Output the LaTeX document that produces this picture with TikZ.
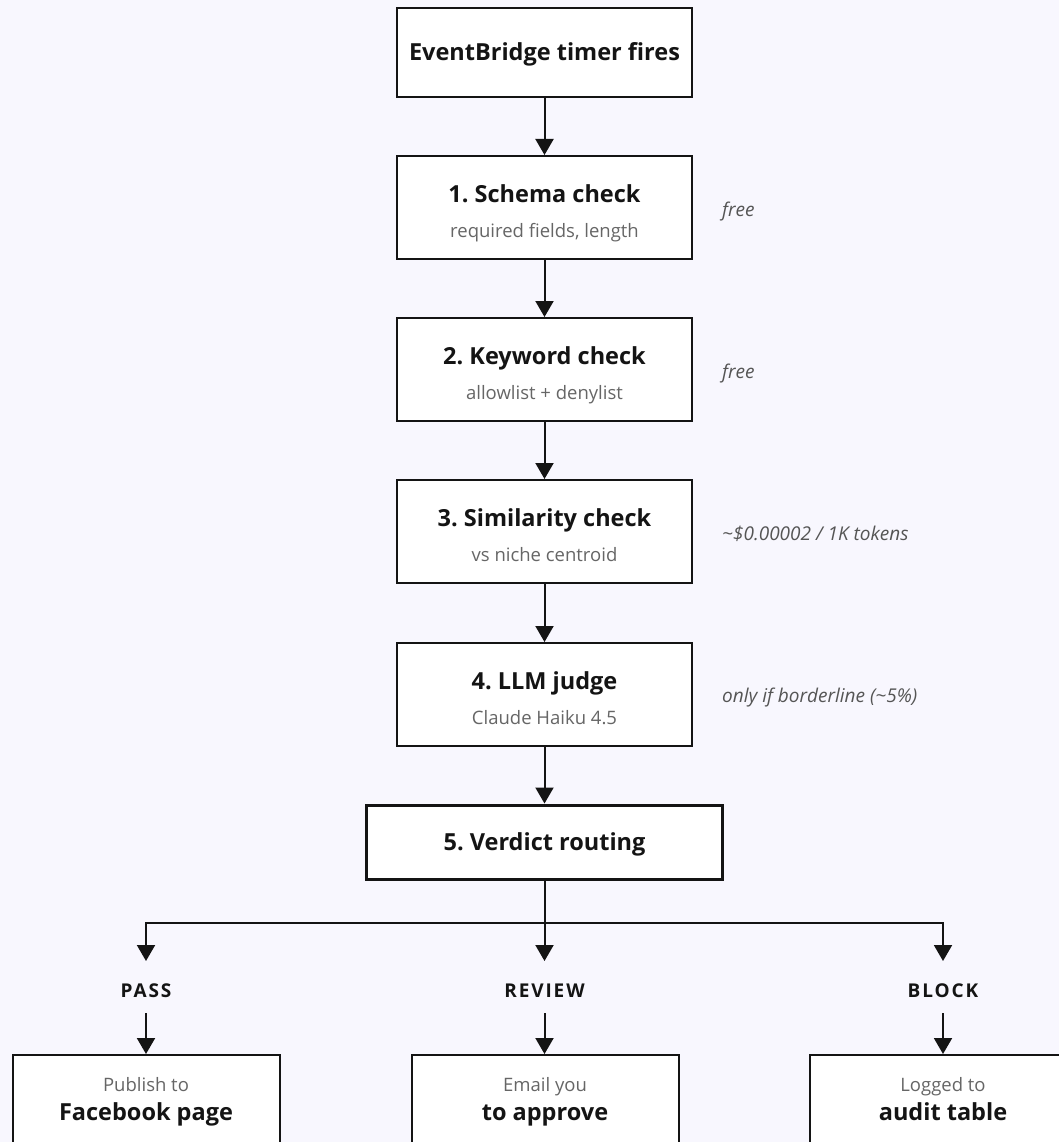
\documentclass[tikz,border=0pt]{standalone}
\usepackage{fontspec}
\setmainfont{Open Sans}
\frenchspacing
\usetikzlibrary{arrows.meta,positioning}

\definecolor{bgc}{HTML}{F8F7FE}
\definecolor{ink}{HTML}{141414}
\definecolor{subc}{HTML}{666666}
\definecolor{notec}{HTML}{555555}

\tikzset{
  stagebox/.style={draw=ink, line width=2pt, fill=white, minimum width=295pt, minimum height=103pt, inner sep=0pt},
  routebox/.style={draw=ink, line width=3pt, fill=white, minimum width=356pt, minimum height=74pt, inner sep=0pt},
  outbox/.style={draw=ink, line width=2pt, fill=white, minimum width=267pt, minimum height=130pt, inner sep=0pt},
  headtxt/.style={text=ink, font=\fontsize{23.5}{27}\selectfont\bfseries, inner sep=0pt, anchor=base},
  subtxt/.style={text=subc, font=\fontsize{18.5}{22}\selectfont, inner sep=0pt, anchor=base},
  notetxt/.style={text=notec, font=\fontsize{19}{22}\selectfont\itshape, anchor=base west, inner sep=0pt},
  verdict/.style={text=ink, font=\fontsize{19}{22}\selectfont\bfseries\addfontfeatures{LetterSpace=10}, inner sep=0pt, anchor=base},
  flow/.style={draw=ink, line width=2pt, -{Triangle[width=18pt,length=16pt]}},
  plain/.style={draw=ink, line width=2pt},
}

% a check stage: box, bold heading and grey detail line
\newcommand{\stagenode}[4]{%
  \node[stagebox] (#1) at (544.5,#2) {};
  \node[headtxt] (#1-h) at ([yshift=-47pt]#1.north) {#3};
  \node[subtxt] (#1-s) at ([yshift=-82pt]#1.north) {#4};
}
% an outcome box: grey lead-in and bold destination
\newcommand{\outnode}[4]{%
  \node[outbox] (#1) at (#2,1120) {};
  \node[subtxt] (#1-s) at ([yshift=-37pt]#1.north) {#3};
  \node[headtxt] (#1-h) at ([yshift=-66pt]#1.north) {#4};
}

\begin{document}
\begin{tikzpicture}[x=1pt,y=-1pt]
  \fill[bgc] (0,0) rectangle (1059,1142);
  \useasboundingbox (0,0) rectangle (1059,1142);

  % trigger
  \node[stagebox, minimum height=89pt] (start) at (544.5,52.5) {};
  \node[headtxt] (start-h) at ([yshift=-8.5pt]start.center) {EventBridge timer fires};

  % checks
  \stagenode{schema}{207.5}{1. Schema check}{required fields, length}
  \stagenode{keyword}{369.5}{2. Keyword check}{allowlist + denylist}
  \stagenode{similar}{531.5}{3. Similarity check}{vs niche centroid}
  \stagenode{judge}{694.5}{4. LLM judge}{Claude Haiku 4.5}

  % cost notes
  \node[notetxt] (n1) at (722,216) {free};
  \node[notetxt] (n2) at (722,378) {free};
  \node[notetxt] (n3) at (722,540) {\textasciitilde\$0.00002 / 1K tokens};
  \node[notetxt] (n4) at (722,702) {only if borderline (\textasciitilde5\%)};

  % routing
  \node[routebox] (route) at (544.5,842) {};
  \node[headtxt] (route-h) at ([yshift=-8.5pt]route.center) {5. Verdict routing};

  % verdict labels
  \coordinate (passpt) at (146,961);
  \coordinate (reviewpt) at (544.5,961);
  \coordinate (blockpt) at (943,961);
  \node[verdict] (pass) at (146,997) {PASS};
  \node[verdict] (review) at (544.5,997) {REVIEW};
  \node[verdict] (block) at (943,997) {BLOCK};
  \coordinate (passout) at (146,1013);
  \coordinate (reviewout) at (544.5,1013);
  \coordinate (blockout) at (943,1013);

  % outcomes
  \outnode{fb}{146}{Publish to}{Facebook page}
  \outnode{mail}{545}{Email you}{to approve}
  \outnode{audit}{943}{Logged to}{audit table}

  % connectors
  \draw[flow] (start) -- (schema);
  \draw[flow] (schema) -- (keyword);
  \draw[flow] (keyword) -- (similar);
  \draw[flow] (similar) -- (judge);
  \draw[flow] (judge) -- (route);

  \coordinate (split) at (544.5,923);
  \draw[plain] (route.south) -- (split);
  \draw[flow] (split) -| (passpt);
  \draw[flow] (split) -- (reviewpt);
  \draw[flow] (split) -| (blockpt);

  \draw[flow] (passout) -- (fb.north -| passout);
  \draw[flow] (reviewout) -- (mail.north -| reviewout);
  \draw[flow] (blockout) -- (audit.north -| blockout);
\end{tikzpicture}
\end{document}
